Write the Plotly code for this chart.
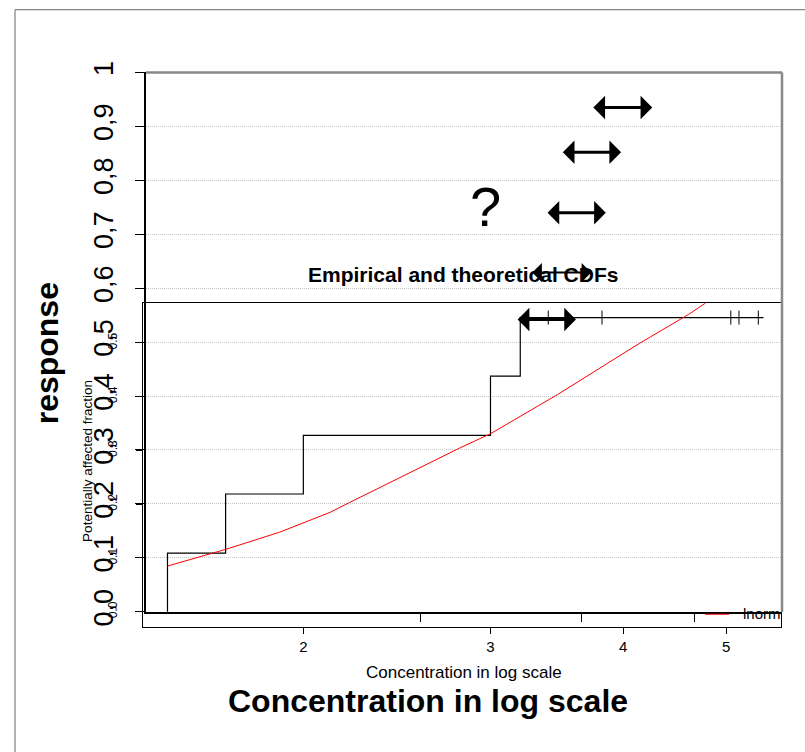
import math
import plotly.graph_objects as go

W, H = 805, 752
# vertical calibration (rendered page appears slightly compressed vertically)
VA, VB = 0.968, 9.3
def X(px): return px / W
def Y(py): return 1 - ((py - VB) / VA) / H

# ---------------- data ----------------
# outer chart (Excel-like) y ticks
outer_y_vals = [0, 0.1, 0.2, 0.3, 0.4, 0.5, 0.6, 0.7, 0.8, 0.9, 1]
outer_y_text = ["0,0", "0,1", "0,2", "0,3", "0,4", "0,5", "0,6", "0,7", "0,8", "0,9", "1"]
outer_x_ticks = [0.432, 0.684, 0.863]

# double arrows (outer coordinates): start x, end x, y
arrow_x0 = [0.701, 0.653, 0.629, 0.605, 0.582]
arrow_x1 = [0.796, 0.747, 0.723, 0.700, 0.676]
arrow_y = [0.935, 0.852, 0.740, 0.629, 0.542]

# inner chart (empirical & theoretical CDFs)
ecdf_x = [1.49, 1.49, 1.69, 1.69, 2.0, 2.0, 3.0, 3.0, 3.2, 3.2, 5.42]
ecdf_y = [0.0, 0.109, 0.109, 0.219, 0.219, 0.328, 0.328, 0.438, 0.438, 0.547, 0.547]
cens_x = [3.40, 3.82, 5.05, 5.14, 5.36]
cens_y = [0.547, 0.547, 0.547, 0.547, 0.547]
lnorm_x = [1.49, 1.62, 1.69, 1.90, 2.12, 2.21, 2.81, 3.0, 3.47, 4.15, 4.61, 4.78]
lnorm_y = [0.085, 0.105, 0.116, 0.148, 0.185, 0.203, 0.305, 0.331, 0.404, 0.500, 0.553, 0.574]
inner_x_ticks = [2, 3, 4, 5]
inner_y_vals = [0, 0.1, 0.2, 0.3, 0.4, 0.5]
inner_y_text = ["0.0", "0.1", "0.2", "0.3", "0.4", "0.5"]

FONT = "Liberation Sans, Arial, sans-serif"

fig = go.Figure()
fig.add_trace(go.Scatter(x=ecdf_x, y=ecdf_y, xaxis="x2", yaxis="y2", mode="lines",
                         line=dict(color="black", width=1.2), showlegend=False))
fig.add_trace(go.Scatter(x=cens_x, y=cens_y, xaxis="x2", yaxis="y2", mode="markers",
                         marker=dict(symbol="line-ns", size=10, line=dict(color="black", width=1)),
                         showlegend=False))
fig.add_trace(go.Scatter(x=lnorm_x, y=lnorm_y, xaxis="x2", yaxis="y2", mode="lines",
                         line=dict(color="red", width=1), showlegend=False))
fig.add_trace(go.Scatter(x=[0, 1], y=[0, 1], mode="markers", marker=dict(opacity=0),
                         showlegend=False, hoverinfo="skip"))

iy0 = -(627 - 611.5) / 540
iy1 = (611.5 - 301) / 540

fig.update_layout(
    width=W, height=H, margin=dict(l=0, r=0, t=0, b=0),
    paper_bgcolor="white", plot_bgcolor="rgba(0,0,0,0)",
    font=dict(family=FONT, color="black"),
    xaxis=dict(domain=[X(146), X(782)], range=[0, 1], anchor="y",
               showgrid=False, zeroline=False, showline=True, linecolor="black", linewidth=2,
               tickmode="array", tickvals=outer_x_ticks, ticks="outside", ticklen=8,
               tickcolor="black", showticklabels=False),
    yaxis=dict(domain=[Y(611.5), Y(70)], range=[0, 1], anchor="x",
               showgrid=True, gridcolor="#c4c4c4", griddash="1px,1px", gridwidth=1,
               zeroline=False, showline=True, linecolor="black", linewidth=1.5,
               tickmode="array", tickvals=outer_y_vals, ticktext=outer_y_text,
               ticks="outside", ticklen=9, tickcolor="black",
               tickangle=-90, tickfont=dict(size=27), ticklabelstandoff=11),
    xaxis2=dict(domain=[X(143), X(781)], type="log",
                range=[math.log10(1.413), math.log10(5.63)], anchor="y2",
                showgrid=False, zeroline=False, showline=True, linecolor="black", linewidth=1,
                mirror=True, tickmode="array", tickvals=inner_x_ticks,
                ticktext=[str(v) for v in inner_x_ticks],
                ticks="outside", ticklen=6, tickcolor="black", tickfont=dict(size=15)),
    yaxis2=dict(domain=[Y(627), Y(301)], range=[iy0, iy1], anchor="x2",
                showgrid=False, zeroline=False, showline=True, linecolor="black", linewidth=1,
                mirror=True, tickmode="array", tickvals=inner_y_vals, ticktext=inner_y_text,
                ticks="outside", ticklen=6, tickcolor="black",
                tickangle=-90, tickfont=dict(size=12), ticklabelstandoff=14),
)

shapes = [
    dict(type="line", xref="paper", yref="paper", x0=X(15), x1=1, y0=Y(7), y1=Y(7),
         line=dict(color="#666", width=1)),
    dict(type="line", xref="paper", yref="paper", x0=X(15), x1=X(15), y0=Y(7), y1=Y(760),
         line=dict(color="#666", width=1)),
    dict(type="line", xref="paper", yref="paper", x0=X(146), x1=X(782), y0=Y(70), y1=Y(70),
         line=dict(color="#888", width=2.5)),
    dict(type="line", xref="paper", yref="paper", x0=X(782), x1=X(782), y0=Y(70), y1=Y(612),
         line=dict(color="#888", width=2.5)),
    dict(type="line", xref="paper", yref="paper", x0=X(705), x1=X(729), y0=Y(614), y1=Y(614),
         line=dict(color="red", width=1)),
]
fig.update_layout(shapes=shapes)

def txt(text, px, py, size, angle=0, xanchor="center"):
    return dict(text=text, x=X(px), y=Y(py), xref="paper", yref="paper", showarrow=False,
                xanchor=xanchor, yanchor="middle", textangle=angle,
                font=dict(size=size, family=FONT))

ann = []
for i, (x0, x1, y) in enumerate(zip(arrow_x0, arrow_x1, arrow_y)):
    thin = (i == 3)
    ann.append(dict(x=x1, y=y, ax=x0, ay=y, xref="x", yref="y", axref="x", ayref="y",
                    text="", showarrow=True, arrowhead=1, startarrowhead=1,
                    arrowside="end+start", arrowwidth=2 if thin else 3,
                    arrowsize=1.6 if thin else 1.3, startarrowsize=1.6 if thin else 1.3,
                    arrowcolor="black", standoff=0, startstandoff=0))
ann += [
    txt("?", 485, 205, 56),
    txt("<b>Empirical and theoretical CDFs</b>", 463, 273, 21),
    txt("<b>response</b>", 47, 352, 32, angle=-90),
    txt("Potentially affected fraction", 88, 460, 13.5, angle=-90),
    txt("Concentration in log scale", 464, 672, 17),
    txt("<b>Concentration in log scale</b>", 428, 701, 32),
    txt("lnorm", 741, 613, 15, xanchor="left"),
]
fig.update_layout(annotations=ann)

fig.write_html("out.html",
               post_script="document.body.style.margin='0';document.body.style.overflow='hidden';")
